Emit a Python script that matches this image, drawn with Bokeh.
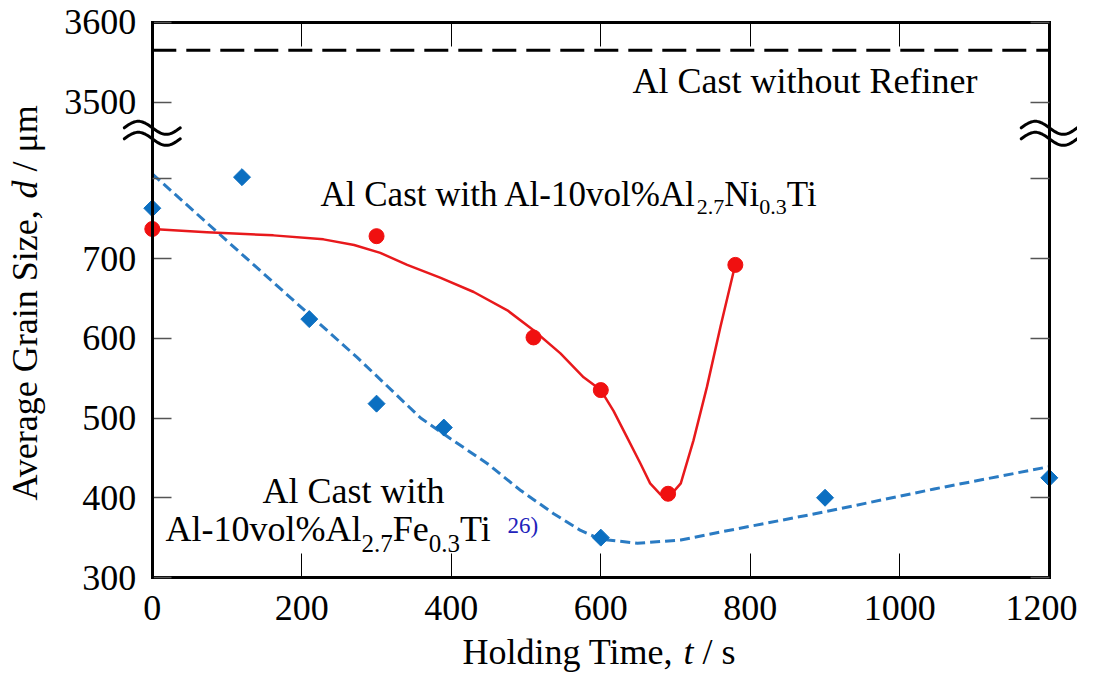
import numpy as np
from bokeh.plotting import figure
from bokeh.models import LinearAxis, FixedTicker, Label, Range1d, CustomLabelingPolicy
from bokeh.embed import file_html
from bokeh.resources import INLINE

# ---------------- data ----------------
fe_time = [0, 120, 210, 300, 390, 600, 900, 1200]
fe_size = [763, 802, 624, 518, 488, 350, 400, 425]
ni_time = [0, 300, 510, 600, 690, 780]
ni_size = [737, 728, 601, 535, 405, 692]

ni_fit_time = [0, 73, 162, 229, 270, 305, 341, 385, 430, 475, 510, 546, 577, 600,
               617, 635, 653, 666, 680, 693, 707, 724, 742, 760, 778, 780]
ni_fit_size = [737, 733, 729, 724, 717, 707, 692, 676, 658, 635, 610, 581, 551, 535,
               509, 476, 443, 418, 404, 403, 418, 472, 539, 614, 685, 692]

fe_fit_time = [0, 274, 359, 399, 448, 493, 537, 573, 600, 649, 707, 760, 898, 1046, 1200]
fe_fit_size = [806, 576, 500, 474, 443, 409, 380, 359, 348, 343, 347, 357, 382, 411, 439]

ref_time = [0, 1200]
ref_size = [3565, 3565]

x_ticks = [0, 200, 400, 600, 800, 1000, 1200]
x_tick_labels = ["0", "200", "400", "600", "800", "1000", "1200"]
y_ticks_labeled = [300, 400, 500, 600, 700, 3500, 3600]
y_tick_labels = ["300", "400", "500", "600", "700", "3500", "3600"]
y_ticks_unlabeled = [800]

# broken axis: upper segment shifted down
UPPER_SHIFT = 2604
def yb(v):
    return v - UPPER_SHIFT if v > 2000 else v

X_MIN, X_MAX = 0, 1200
Y_MIN, Y_MAX = 300, yb(3600)

# ---------------- geometry (frame = whole canvas) ----------------
CW, CH = 1077, 672
SX, SY = 0.7475, 0.7975          # px per data unit
BOX_LEFT_PX, BOX_BOTTOM_PX = 151.8, 577
XR0 = X_MIN - BOX_LEFT_PX / SX
XR1 = XR0 + CW / SX
YR1 = Y_MIN + BOX_BOTTOM_PX / SY
YR0 = YR1 - CH / SY

def xd(px):
    return XR0 + px / SX

def yd(py):
    return YR1 - py / SY

SERIF = "Liberation Serif"
BASE_SHIFT = 0.36   # empirical: label baseline lands this many em lower
W = {'A': 722, 'l': 278, ' ': 250, 'C': 667, 'a': 444, 's': 389, 't': 278, 'w': 722,
     'i': 278, 'h': 500, '-': 333, '1': 500, '0': 500, 'v': 500, 'o': 500, '%': 833,
     'N': 722, 'T': 611, 'F': 556, 'e': 444, '.': 250, '2': 500, '7': 500, '3': 500,
     'H': 722, 'd': 500, 'n': 500, 'g': 500, 'm': 778, ',': 250, '/': 278, 'r': 333,
     'G': 722, 'S': 556, 'z': 444, 'μ': 500, 'u': 500, 'R': 667, 'f': 333}

def tw(s, size):
    return sum(W.get(c, 500) for c in s) / 1000.0 * size

p = figure(frame_width=CW, frame_height=CH, x_range=Range1d(XR0, XR1),
           y_range=Range1d(YR0, YR1), output_backend="svg", toolbar_location=None,
           x_axis_location=None, y_axis_location=None,
           min_border_left=0, min_border_right=0, min_border_top=0,
           min_border_bottom=0)
p.outline_line_color = None
p.background_fill_color = "white"
p.border_fill_color = "white"
p.xgrid.visible = False
p.ygrid.visible = False

NO_LABELS = CustomLabelingPolicy(code="return new indices.constructor(indices.size)")

def make_axis(ticks, side, loc, bounds, tick_len, tick_color, tick_w,
              overrides=None, standoff=0):
    ax = LinearAxis(ticker=FixedTicker(ticks=ticks), fixed_location=loc, bounds=bounds)
    ax.axis_line_width = 3
    ax.axis_line_color = "black"
    ax.axis_line_cap = "square"
    ax.major_tick_in = tick_len
    ax.major_tick_out = 0
    ax.major_tick_line_color = tick_color
    ax.major_tick_line_width = tick_w
    ax.minor_tick_line_color = None
    ax.major_label_text_font = SERIF
    ax.major_label_text_font_size = "36px"
    ax.major_label_text_color = "black"
    if overrides is None:
        ax.major_label_policy = NO_LABELS
    else:
        ax.major_label_overrides = overrides
        ax.major_label_standoff = standoff
    p.add_layout(ax, side)
    return ax

x_over = {v: lab for v, lab in zip(x_ticks, x_tick_labels)}
y_over = {yb(v): lab for v, lab in zip(y_ticks_labeled, y_tick_labels)}
y_lab_pos = [yb(v) for v in y_ticks_labeled]
y_all_pos = sorted(y_lab_pos + [yb(v) for v in y_ticks_unlabeled])

make_axis(x_ticks, "below", Y_MIN, (X_MIN, X_MAX), 24, "black", 1, x_over, 18)
make_axis(x_ticks, "above", Y_MAX, (X_MIN, X_MAX), 24, "black", 1)
make_axis(y_lab_pos, "left", X_MIN, (Y_MIN, Y_MAX), 19, "#555555", 1.5, y_over, 16)
make_axis([yb(v) for v in y_ticks_unlabeled], "left", X_MIN, (Y_MIN, Y_MAX),
          19, "#555555", 1.5)
make_axis(y_all_pos, "right", X_MAX, (Y_MIN, Y_MAX), 19, "#555555", 1.5)

# reference line (no refiner)
p.line(ref_time, [yb(v) for v in ref_size], line_color="black", line_width=3,
       line_dash="24 10")

# fitted curves
p.line(fe_fit_time, fe_fit_size, line_color="#2a7bc3", line_width=3, line_dash="10 5")
p.line(ni_fit_time, ni_fit_size, line_color="#e8191c", line_width=2.5,
       line_join="round")

# markers
p.scatter(fe_time, fe_size, marker="square", angle=np.pi / 4, size=12,
          fill_color="#0b6fc1", line_color="#0b6fc1")
p.scatter(ni_time, ni_size, marker="circle", size=15,
          fill_color="#f01010", line_color="#f01010")

# axis-break symbols
BREAK_Y = 857
u = np.linspace(0, 1, 41)
for xc in (X_MIN, X_MAX):
    for off in (5.5, -5.5):
        xs = xc + (u - 0.5) * 56 / SX
        ys = BREAK_Y + (off + 6.5 * np.sin(2 * np.pi * u)) / SY
        p.line(xs, ys, line_color="black", line_width=3, line_cap="round")

def rich(pieces, px0, py_base):
    px = px0
    for text, size, style, dy, color in pieces:
        stripped = text.lstrip(" ")
        px += tw(text[:len(text) - len(stripped)], size)
        p.add_layout(Label(x=xd(px), y=yd(py_base + dy - BASE_SHIFT * size),
                           text=stripped, text_font=SERIF, text_font_size=f"{size}px",
                           text_font_style=style, text_color=color,
                           text_align="left", text_baseline="alphabetic"))
        px += tw(stripped, size)

rich([("Al Cast without Refiner", 36, "normal", 0, "black")], 632, 93)
rich([("Al Cast with Al-10vol%Al", 35, "normal", 0, "black"),
      ("2.7", 22, "normal", 7, "black"),
      ("Ni", 35, "normal", 0, "black"),
      ("0.3", 22, "normal", 7, "black"),
      ("Ti", 35, "normal", 0, "black")], 320, 207)
rich([("Al Cast with", 36, "normal", 0, "black")], 262, 503)
rich([("Al-10vol%Al", 36, "normal", 0, "black"),
      ("2.7", 25, "normal", 10, "black"),
      ("Fe", 36, "normal", 0, "black"),
      ("0.3", 25, "normal", 10, "black"),
      ("Ti", 36, "normal", 0, "black")], 165, 541.7)
rich([("26)", 23, "normal", 0, "#2222bb")], 507, 533)

# x axis title
rich([("Holding Time, ", 36, "normal", 0, "black"),
      ("t", 36, "italic", 0, "black"),
      (" / s", 36, "normal", 0, "black")], 462, 664)

# y axis title (rotated; text runs upward, baseline on the right)
py = 500
for text, style in [("Average Grain Size, ", "normal"), ("d", "italic"), (" / μm", "normal")]:
    stripped = text.lstrip(" ")
    py -= tw(text[:len(text) - len(stripped)], 36)
    p.add_layout(Label(x=xd(37 - BASE_SHIFT * 36), y=yd(py), text=stripped,
                       angle=np.pi / 2, text_font=SERIF, text_font_size="36px",
                       text_font_style=style, text_color="black",
                       text_align="left", text_baseline="alphabetic"))
    py -= tw(stripped, 36)

open("out.html", "w").write(file_html(p, INLINE))
